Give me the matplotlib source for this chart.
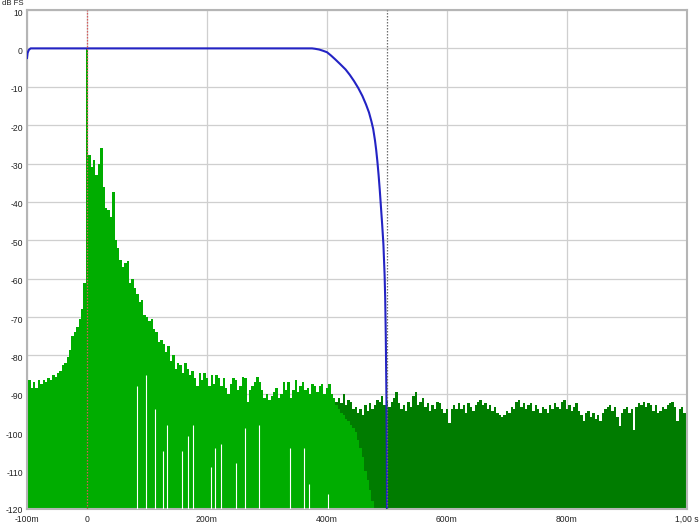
import numpy as np
import matplotlib
matplotlib.use('Agg')
import matplotlib.pyplot as plt
import matplotlib.transforms as mtransforms

plt.rcParams['font.family'] = ['Liberation Sans', 'DejaVu Sans']

# ---------------- data ----------------
STEP = 4.0  # ms between samples of the read-off traces

# windowed impulse response (light green), sample centres from -100 ms
LIGHT_START = -100.0
light_db = [
    -88, -86.5, -88.5, -87, -88.5, -86.5, -87.5, -86.5, -87, -86,
    -86.5, -85, -85.5, -84.5, -84, -82.5, -82, -80.5, -78.5, -75,
    -74, -72.5, -70.5, -68, -61,
    0,
    -27.7, -31, -29, -33, -30, -26, -36, -41.5, -42, -44,
    -37.5, -50, -52, -55, -57, -56, -55.5, -61, -60, -62.5,
    -64, -66, -65.5, -69.5, -70, -71, -70.5, -73, -74, -76.5,
    -76, -77, -79, -77.5, -81.5, -80, -83.5, -82, -82.5, -84.5,
    -82, -83.5, -85, -84, -86, -88, -84.5, -86.5, -84.5, -86,
    -88, -85, -87.5, -85, -86, -88, -86, -88.5, -90, -87.5,
    -86, -86.5, -89, -88, -85.5, -86, -92, -89, -88, -87,
    -85.5, -87, -89, -91, -90, -91.5, -90.5, -89.5, -88.5, -91,
    -90, -87, -89, -87, -91, -89, -86.5, -89.5, -88, -87,
    -89, -88.5, -90, -87.5, -88, -89.5, -88, -87.5, -90, -88.5,
    -87.5, -90, -91, -93, -94, -95, -95.5, -96.5, -97, -98,
    -99, -100, -102, -104, -106.5, -110, -112.5, -115, -118,
]

# unwindowed tail of the response (dark green), sample centres from 404 ms
DARK_START = 404.0
dark_db = [
    -95, -94, -93.5, -92, -91, -92.5, -90, -93, -91.5, -92,
    -94, -93.5, -95, -94, -95.5, -93, -94.5, -92.5, -94, -93,
    -91.5, -92, -90.5, -93, -91.5, -93.5, -92, -91, -89.5, -92.5,
    -94, -93, -94.5, -92, -93.5, -90.5, -89.5, -93, -92, -91,
    -93.5, -92.5, -94.5, -93, -94, -92, -92.5, -94, -95, -94,
    -97.5, -94, -93, -94, -92.5, -94, -93, -95, -92.5, -93.5,
    -94.5, -93, -92, -91.5, -93, -92.5, -94, -93, -94.5, -93.5,
    -95, -95.5, -96, -95.5, -94.5, -95, -93.5, -94, -92, -91.5,
    -93.5, -92.5, -94, -93, -92.5, -94.5, -93, -94, -95, -93.5,
    -94, -95, -93, -94, -92.5, -93.5, -94, -92, -91.5, -94,
    -93, -94.5, -93.5, -92.5, -94.5, -95.5, -97, -95, -94.5, -96,
    -95, -96.5, -95.5, -97, -95, -94, -93.5, -93, -94.5, -93.5,
    -96, -98.5, -95, -94, -93.5, -95, -94, -99.5, -93.5, -92.5,
    -93, -92, -93.5, -92.5, -93, -94.5, -93, -95, -94.5, -93.5,
    -94, -93, -92.5, -92, -93.5, -97, -94, -93.5, -95, -94,
]

# samples where the light trace's lower bound lifts off the floor (white gaps)
dip_t = [84, 98, 113, 127, 134, 159, 168, 176, 206, 214, 223, 248, 264,
         287, 338, 362, 370, 402]
dip_db = [-88, -85, -94, -105, -98, -105, -101, -98, -109, -104, -103, -108,
          -99, -98, -104, -104, -113.5, -116]

# analysis window (blue)
win_t = [-100, -99, -97, -94, 375, 380, 387, 393, 400, 407, 414, 422, 431,
         438, 445, 452, 459, 465, 470, 474, 477, 480, 482, 484, 486, 488,
         490, 492, 494, 496, 497, 498, 499, 499.7, 500]
win_db = [-2.5, -1.2, -0.4, 0, 0, -0.1, -0.3, -0.6, -1, -1.9, -2.9, -4.1,
          -5.5, -6.9, -8.5, -10.3, -12.4, -14.6, -16.7, -19, -21, -24, -26.5,
          -29.5, -33, -37, -41.5, -46, -51, -59, -65, -75, -90, -105, -120]

x_ticks = [-100, 0, 200, 400, 600, 800, 1000]
x_labels = ['-100m', '0', '200m', '400m', '600m', '800m', '1,00 s']
y_ticks = list(range(10, -121, -10))
y_labels = [str(v) for v in y_ticks]

# ---------------- styling ----------------
LIGHT = '#00ad00'
DARK = '#007c00'
BLUE = '#2323c4'
FLOOR = -120


def step_edges(start, values):
    n = len(values)
    edges = start - STEP / 2 + STEP * np.arange(n + 1)
    vals = np.append(np.asarray(values, float), values[-1])
    return edges, vals


fig = plt.figure(figsize=(7, 5.25), dpi=100)
ax = fig.add_axes([27 / 700, 16 / 525, 660 / 700, 499 / 525])
ax.set_xlim(-100, 1000)
ax.set_ylim(-120, 10)

ax.set_axisbelow(True)
ax.grid(True, color='#cfcfcf', lw=0.9)

xe, ye = step_edges(DARK_START, dark_db)
ax.fill_between(xe, FLOOR, ye, step='post', color=DARK, lw=0, zorder=1)
xe, ye = step_edges(LIGHT_START, light_db)
ax.fill_between(xe, FLOOR, ye, step='post', color=LIGHT, lw=0, zorder=2)
ax.vlines(dip_t, FLOOR, dip_db, color='white', lw=0.8, zorder=3)

ax.plot(win_t, win_db, color=BLUE, lw=1.5, zorder=4)

ax.axvline(0, color='#d85a5a', ls=(0, (1.2, 1.2)), lw=0.9, zorder=5)
ax.axvline(500, color='#6e6e6e', ls=(0, (1.2, 1.2)), lw=0.9, zorder=5)

ax.set_xticks(x_ticks)
ax.set_xticklabels(x_labels)
ax.set_yticks(y_ticks)
ax.set_yticklabels(y_labels)
ax.tick_params(axis='both', length=0, labelsize=6.2, colors='#222222')
ax.tick_params(axis='y', pad=3)
ax.tick_params(axis='x', pad=4.5)

# y labels sit a touch below their grid lines, as in the reference
ylabs = ax.get_yticklabels()
for i, lab in enumerate(ylabs):
    dy = -0.5 if i == len(ylabs) - 1 else -2
    shift = mtransforms.ScaledTranslation(0, dy / 100, fig.dpi_scale_trans)
    lab.set_transform(lab.get_transform() + shift)

for s in ax.spines.values():
    s.set_color('#b5b5b5')
    s.set_linewidth(1.5)

fig.text(2 / 700, 1.0, 'dB FS', ha='left', va='top', fontsize=5.6,
         color='#222222')

fig.savefig('out.png', dpi=100)
